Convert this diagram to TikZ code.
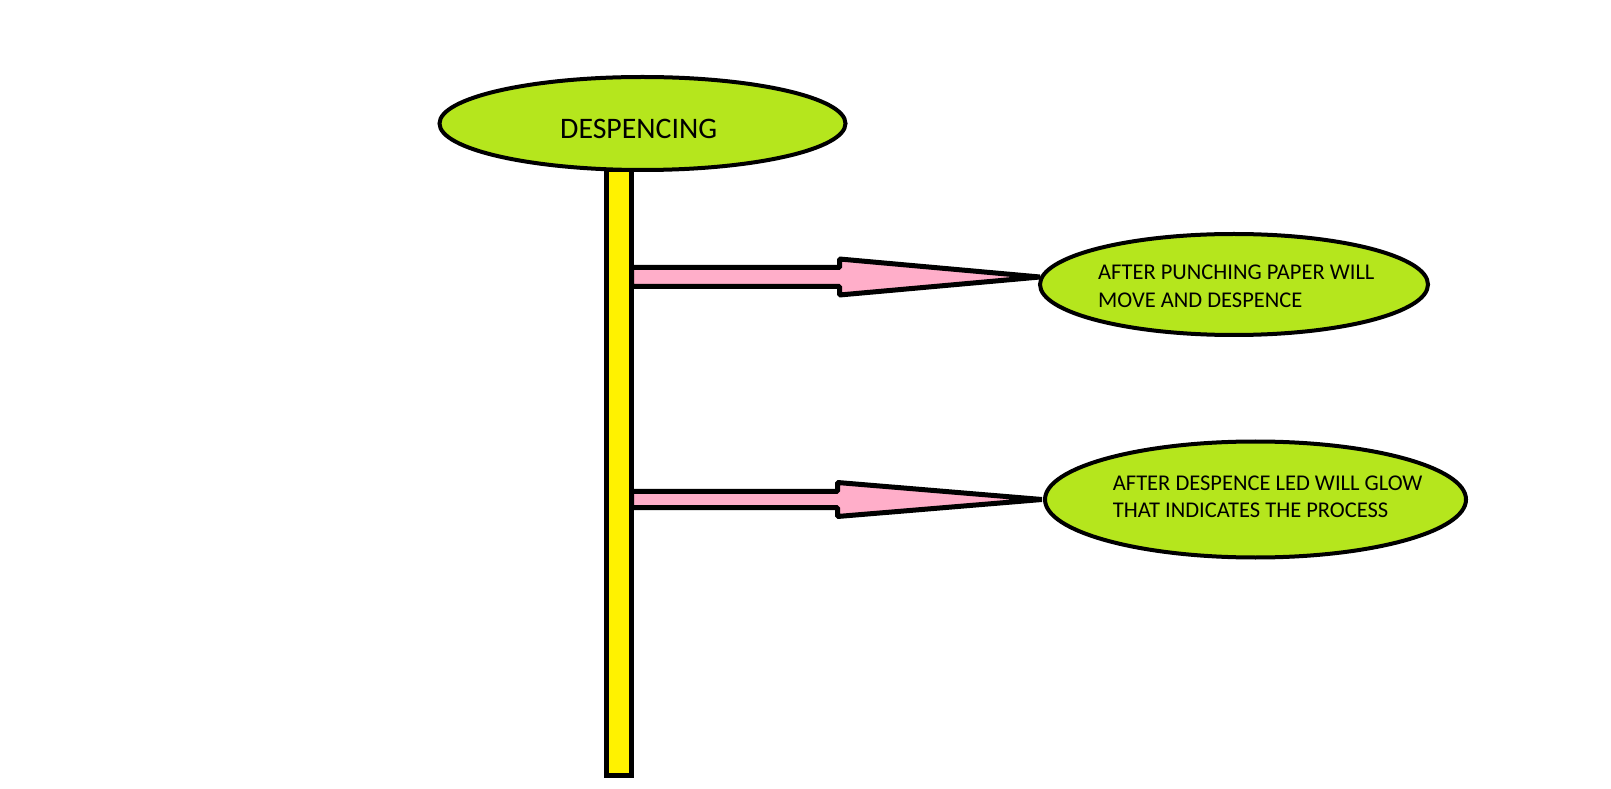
\documentclass[tikz,border=0pt]{standalone}
\usepackage{fontspec}
\setmainfont{Carlito}
\usetikzlibrary{calc,shapes.geometric}
\definecolor{lime}{HTML}{B5E61D}
\definecolor{baryellow}{HTML}{FFF200}
\definecolor{arrowpink}{HTML}{FFAEC9}
\tikzset{
  bubble/.style={ellipse, draw=black, fill=lime, line width=4pt, inner sep=0pt, outer sep=0pt},
  barbox/.style={rectangle, draw=black, fill=baryellow, line width=5pt, inner sep=0pt, outer sep=0pt},
  fatarrow/.style={draw=black, fill=arrowpink, line width=5pt, line join=bevel},
  bigtext/.style={font=\fontsize{29.8}{34}\selectfont, inner sep=0pt, anchor=base west},
  smalltext/.style={font=\fontsize{22.5}{27.7}\selectfont, inner sep=0pt, anchor=base west, align=left},
}
\begin{document}
\begin{tikzpicture}[x=1pt,y=1pt]
\useasboundingbox[fill=white] (0,0) rectangle (1611,788);
% vertical bar (behind top ellipse)
\node[barbox, minimum width=25pt, minimum height=605.5pt] (bar) at (619,315.25) {};
% ellipses
\node[bubble, minimum width=406pt, minimum height=93pt] (top) at (642.5,664.5) {};
\node[bubble, minimum width=388pt, minimum height=101pt] (e2) at (1234,503.5) {};
\node[bubble, minimum width=421pt, minimum height=116pt] (e3) at (1255.5,288.5) {};
% texts (anchor on last line's baseline)
\node[bigtext] (ttop) at (560,649) {DESPENCING};
\node[smalltext] (t2) at (1098,480.3) {AFTER PUNCHING PAPER WILL\\MOVE AND DESPENCE};
\node[smalltext] (t3) at (1112.7,270.3) {AFTER DESPENCE LED WILL GLOW\\THAT INDICATES THE PROCESS};
% arrow tips
\coordinate (tip1) at ($(e2.west)+(0,7.5)$);
\coordinate (tip2) at ($(e3.west)+(-3,0)$);
% arrows
\draw[fatarrow] let \p1=(bar.east), \p2=(tip1) in
  (\x1,\y2+9.5) -- (\x1+208,\y2+9.5) -- (\x1+208,\y2+18) -- (\p2)
  -- (\x1+208,\y2-18) -- (\x1+208,\y2-9.5) -- (\x1,\y2-9.5) -- cycle;
\draw[fatarrow] let \p1=(bar.east), \p2=(tip2) in
  (\x1,\y2+8.1) -- (\x1+206,\y2+8.1) -- (\x1+206,\y2+17) -- (\p2)
  -- (\x1+206,\y2-17) -- (\x1+206,\y2-8.1) -- (\x1,\y2-8.1) -- cycle;
% redraw bar border over arrow starts
\draw[black, line width=5pt] (bar.south east) -- ($(bar.east |- top.south)+(0,-4)$);
\end{tikzpicture}
\end{document}
